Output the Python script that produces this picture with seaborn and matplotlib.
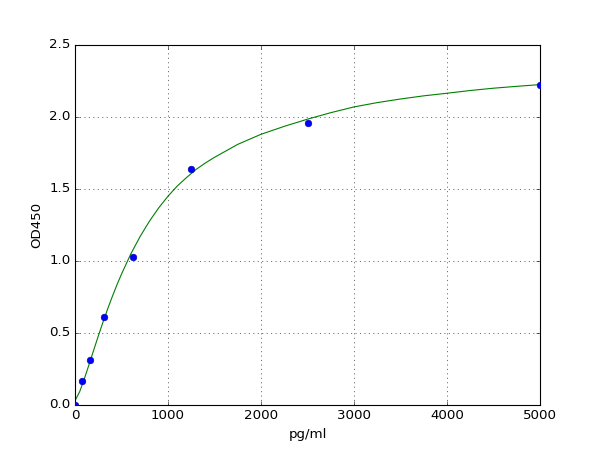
import matplotlib
matplotlib.use('Agg')
import matplotlib.pyplot as plt
import numpy as np
import pandas as pd
import seaborn as sns

# standard points (concentration vs OD)
conc = [0, 78, 156, 312, 625, 1250, 2500, 5000]
od = [0.0, 0.17, 0.315, 0.61, 1.03, 1.64, 1.955, 2.225]

# fitted curve
curve_x = [0, 50, 100, 150, 200, 250, 300, 350, 400, 450, 500, 600, 700, 800,
           900, 1000, 1100, 1200, 1300, 1400, 1500, 1750, 2000, 2250, 2500,
           2750, 3000, 3250, 3500, 3750, 4000, 4250, 4500, 4750, 5000]
curve_y = [0.03, 0.092, 0.181, 0.279, 0.379, 0.478, 0.574, 0.665, 0.751, 0.833,
           0.909, 1.049, 1.17, 1.276, 1.369, 1.45, 1.521, 1.58, 1.635, 1.68,
           1.72, 1.81, 1.88, 1.935, 1.985, 2.03, 2.07, 2.1, 2.125, 2.147,
           2.165, 2.184, 2.2, 2.213, 2.225]

plt.style.use('classic')

pts = pd.DataFrame({'pg/ml': conc, 'OD450': od})
fit = pd.DataFrame({'pg/ml': curve_x, 'OD450': curve_y})

fig, ax = plt.subplots(figsize=(7.5, 5.625), dpi=80)
fig.patch.set_facecolor('white')

sns.lineplot(data=fit, x='pg/ml', y='OD450', color='g', linewidth=1, ax=ax)
sns.scatterplot(data=pts, x='pg/ml', y='OD450', color='b', s=36,
                edgecolor='#0000aa', linewidth=0.5, zorder=3, ax=ax)

ax.set_xlim(0, 5000)
ax.set_ylim(0, 2.5)
ax.set_xticks(np.arange(0, 5001, 1000))
ax.set_yticks(np.arange(0, 2.51, 0.5))
ax.yaxis.set_major_formatter(matplotlib.ticker.FormatStrFormatter('%.1f'))
ax.grid(True, linestyle=':', color='k', linewidth=0.5)
ax.set_xlabel('pg/ml')
ax.set_ylabel('OD450')

fig.savefig('out.png', dpi=80, facecolor='white')
